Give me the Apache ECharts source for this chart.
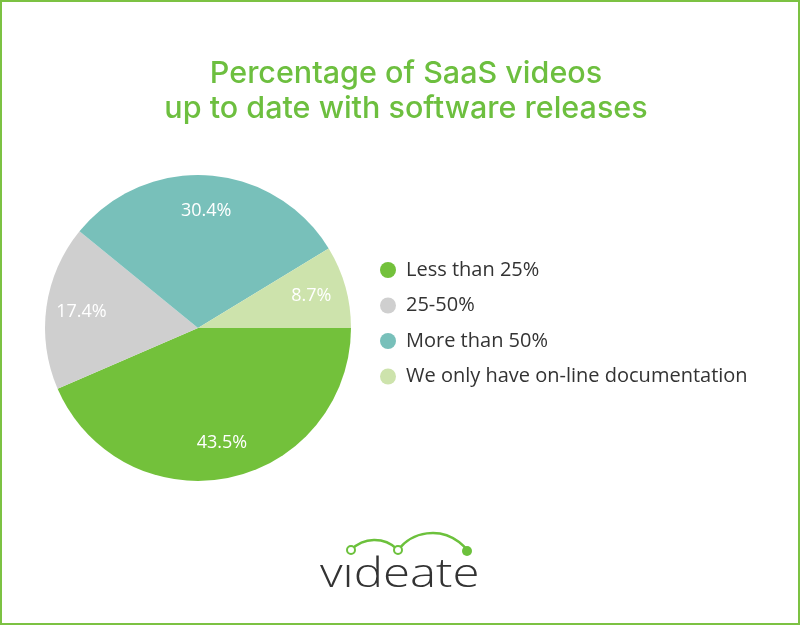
<!DOCTYPE html>
<html>
<head>
<meta charset="utf-8">
<script src="https://cdn.jsdelivr.net/npm/echarts@6/dist/echarts.min.js"></script>
<style>
html,body{margin:0;padding:0;background:#fff;}
#chart{width:800px;height:625px;box-sizing:border-box;border:2px solid #7cc243;}
</style>
</head>
<body>
<div id="chart"></div>
<script>
var categories = ['Less than 25%', '25-50%', 'More than 50%', 'We only have on-line documentation'];
var values = [43.5, 17.4, 30.4, 8.7];
var colors = ['#73c13b', '#cfcfcf', '#78c0ba', '#cde3ac'];

var FONT = '"Open Sans", "Noto Sans", sans-serif';
var chart = echarts.init(document.getElementById('chart'), null, {renderer: 'canvas'});
var data = categories.map(function (c, i) {
  return {name: c, value: values[i], itemStyle: {color: colors[i]}};
});
var labelData = categories.map(function (c, i) {
  return {name: c, value: values[i]};
});
var CX = 196, CY = 326, R = 153;
var G = '#6cc13c';
chart.setOption({
  animation: false,
  title: {
    text: 'Percentage of SaaS videos\nup to date with software releases',
    left: 399,
    textAlign: 'center',
    top: 49,
    textStyle: {color: '#6dbf3f', fontSize: 30.5, fontWeight: 500, fontFamily: 'Inter, "Open Sans", sans-serif', lineHeight: 35}
  },
  legend: {
    orient: 'vertical',
    left: 373,
    top: 253,
    icon: 'circle',
    itemWidth: 16,
    itemHeight: 16,
    itemGap: 15.5,
    data: categories,
    textStyle: {color: '#333', fontSize: 20, fontFamily: FONT, padding: [0, 0, 0, 5]}
  },
  series: [
    {
      type: 'pie',
      center: [CX, CY],
      radius: [0, R],
      startAngle: 0,
      clockwise: true,
      label: {show: false},
      labelLine: {show: false},
      emphasis: {disabled: true},
      data: data
    },
    {
      type: 'pie',
      center: [CX, CY],
      radius: [R * 0.5, R],
      startAngle: 0,
      clockwise: true,
      silent: true,
      legendHoverLink: false,
      itemStyle: {color: 'rgba(0,0,0,0)'},
      label: {show: true, position: 'inside', formatter: '{c}%', color: '#fff', fontSize: 18, fontFamily: FONT},
      labelLine: {show: false},
      emphasis: {disabled: true},
      data: labelData
    }
  ],
  graphic: [
    {type: 'text', x: 318, y: 554, scaleX: 1.23,
     style: {text: 'videate', fill: '#333', font: '300 40px "Open Sans", "Noto Sans", sans-serif', verticalAlign: 'top'}},
    {type: 'rect', shape: {x: 341, y: 552, width: 15, height: 11}, style: {fill: '#fff'}},
    {type: 'arc', shape: {cx: 372.5, cy: 570.6, r: 32.6, startAngle: -2.375, endAngle: -0.766, clockwise: true},
     style: {stroke: G, lineWidth: 2.5, fill: null}},
    {type: 'arc', shape: {cx: 430.5, cy: 574.5, r: 43.5, startAngle: -2.486, endAngle: -0.655, clockwise: true},
     style: {stroke: G, lineWidth: 2.5, fill: null}},
    {type: 'circle', shape: {cx: 349, cy: 548, r: 4}, style: {fill: '#fff', stroke: G, lineWidth: 2}},
    {type: 'circle', shape: {cx: 396, cy: 548, r: 4}, style: {fill: '#fff', stroke: G, lineWidth: 2}},
    {type: 'circle', shape: {cx: 465, cy: 549, r: 5}, style: {fill: G}}
  ]
});
</script>
</body>
</html>
